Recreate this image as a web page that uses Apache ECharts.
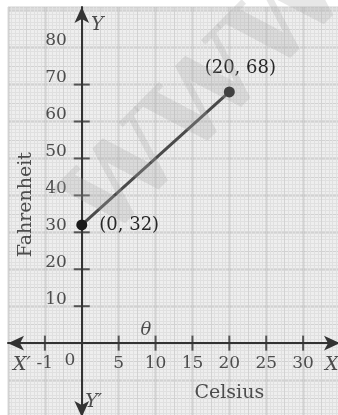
<!DOCTYPE html>
<html>
<head>
<meta charset="utf-8">
<script src="https://cdn.jsdelivr.net/npm/echarts@6/dist/echarts.min.js"></script>
<style>
  html, body { margin: 0; padding: 0; background: #ffffff; }
  #chart { width: 338px; height: 415px; }
</style>
</head>
<body>
<div id="chart"></div>
<script>
// Celsius -> Fahrenheit conversion line
const points = [[0, 32], [20, 68]];

// tick marks crossing the axes
const xTickValues = [-5, 5, 10, 15, 20, 25, 30];
const yTickValues = [10, 20, 30, 40, 50, 60, 70];

// axis tick labels
const xLabelValues = [-5, 5, 10, 15, 20, 25, 30];
const xLabelTexts = ['-1', '5', '10', '15', '20', '25', '30'];
const yLabelValues = [10, 20, 30, 40, 50, 60, 70, 80];

// free text placed in data units
const notes = [
  { text: 'Y', at: [2.1, 86], italic: true, size: 19 },
  { text: "Y\u2032", at: [1.6, -16], italic: true, size: 19 },
  { text: "X\u2032", at: [-8.1, -6], italic: true, size: 19 },
  { text: 'X', at: [33.9, -6], italic: true, size: 19 },
  { text: '\u03b8', at: [8.7, 3.6], italic: true, size: 18 },
  { text: '0', at: [-1.6, -4.6], italic: false, size: 17 },
  { text: 'Celsius', at: [20, -13.6], italic: false, size: 19 },
  { text: 'Fahrenheit', at: [-7.6, 37.5], italic: false, size: 19, rotate: 90 }
];

const SERIF = '"DejaVu Serif", "Liberation Serif", serif';
const INK = '#262626';

const textLabel = (extra) => Object.assign({
  show: true, color: INK, fontFamily: SERIF, fontSize: 17
}, extra);

const chart = echarts.init(document.getElementById('chart'), null, { renderer: 'canvas' });

chart.setOption({
  animation: false,
  backgroundColor: '#ffffff',
  grid: {
    left: 8, right: -2, top: 7, bottom: -2,
    containLabel: false, outerBoundsMode: 'none',
    show: true, backgroundColor: '#eeeeee', borderWidth: 0
  },
  xAxis: [{
    type: 'value', min: -10, max: 35, interval: 5,
    axisLine: {
      show: true, onZero: true,
      lineStyle: { color: '#333333', width: 2 },
      symbol: ['arrow', 'arrow'], symbolSize: [11, 16]
    },
    axisTick: { show: false },
    axisLabel: { show: false },
    minorTick: { show: false, splitNumber: 10 },
    splitLine: { show: true, lineStyle: { color: '#a2a2a2', width: 1.4 } },
    minorSplitLine: { show: true, lineStyle: { color: '#e0e0e0', width: 1 } }
  }, {
    // half-step lines of the graph paper
    type: 'value', min: -10, max: 35, interval: 2.5, position: 'top',
    axisLine: { show: false }, axisTick: { show: false }, axisLabel: { show: false },
    splitLine: { show: true, lineStyle: { color: '#d2d2d2', width: 1 } }
  }],
  yAxis: [{
    type: 'value', min: -20, max: 91, interval: 10,
    axisLine: {
      show: true, onZero: true,
      lineStyle: { color: '#333333', width: 2 },
      symbol: ['arrow', 'arrow'], symbolSize: [11, 16]
    },
    axisTick: { show: false },
    axisLabel: { show: false },
    minorTick: { show: false, splitNumber: 10 },
    splitLine: { show: true, lineStyle: { color: '#a2a2a2', width: 1.4 } },
    minorSplitLine: { show: true, lineStyle: { color: '#e0e0e0', width: 1 } }
  }, {
    type: 'value', min: -20, max: 91, interval: 5, position: 'right',
    axisLine: { show: false }, axisTick: { show: false }, axisLabel: { show: false },
    splitLine: { show: true, lineStyle: { color: '#d2d2d2', width: 1 } }
  }],
  graphic: [{
    type: 'text', x: 210, y: 100, rotation: Math.PI * 0.25, z: 50, silent: true,
    style: {
      text: 'WWW', font: 'bold 104px "DejaVu Serif"',
      fill: 'rgba(170,170,170,0.28)', align: 'center', verticalAlign: 'middle'
    }
  }],
  series: [
    {
      // ticks across the x axis
      type: 'scatter', silent: true, z: 3,
      symbol: 'rect', symbolSize: [2, 15],
      itemStyle: { color: '#333333' },
      data: xTickValues.map(v => [v, 0])
    },
    {
      // ticks across the y axis
      type: 'scatter', silent: true, z: 3,
      symbol: 'rect', symbolSize: [16, 2],
      itemStyle: { color: '#333333' },
      data: yTickValues.map(v => [0, v])
    },
    {
      // x tick labels
      type: 'scatter', silent: true, z: 6, symbolSize: 0,
      data: xLabelValues.map((v, i) => ({
        value: [v, 0],
        label: textLabel({ position: 'bottom', distance: 12, formatter: xLabelTexts[i] })
      }))
    },
    {
      // y tick labels
      type: 'scatter', silent: true, z: 6, symbolSize: 0,
      data: yLabelValues.map(v => ({
        value: [0, v],
        label: textLabel({ position: 'left', distance: 15, offset: [0, -7], formatter: String(v) })
      }))
    },
    {
      type: 'line', z: 5,
      data: [
        { value: points[0], label: { position: 'right', distance: 12 } },
        { value: points[1], label: { position: 'top', distance: 9, offset: [11, 0] } }
      ],
      lineStyle: { color: '#4a4a4a', width: 3 },
      symbol: 'circle', symbolSize: 11,
      itemStyle: { color: '#1a1a1a' },
      label: textLabel({
        fontSize: 18,
        formatter: p => '(' + p.value[0] + ', ' + p.value[1] + ')'
      }),
      emphasis: { disabled: true }
    },
    {
      // axis letters and titles
      type: 'scatter', silent: true, z: 6, symbolSize: 0,
      data: notes.map(n => ({
        value: n.at,
        label: textLabel({
          position: 'inside', formatter: n.text, fontSize: n.size,
          fontStyle: n.italic ? 'italic' : 'normal',
          rotate: n.rotate || 0
        })
      }))
    }
  ]
});
</script>
</body>
</html>
